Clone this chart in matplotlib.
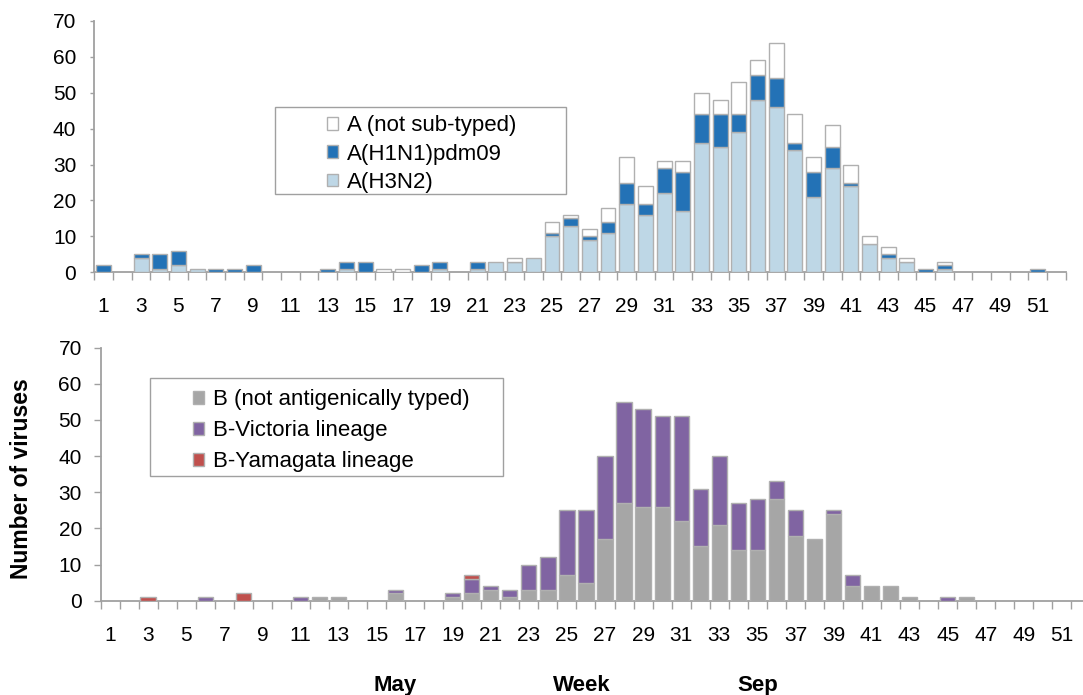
import numpy as np
import matplotlib
matplotlib.use('Agg')
import matplotlib.pyplot as plt
from matplotlib.patches import Patch, Rectangle

plt.rcParams['font.family'] = ['Liberation Sans', 'DejaVu Sans']

weeks = np.arange(1, 53)

# influenza A by week 1..52
h3n2 = [0, 0, 4, 1, 2, 1, 0, 0, 0, 0, 0, 0, 0, 1, 0, 0, 0, 0, 1, 0,
        1, 3, 3, 4, 10, 13, 9, 11, 19, 16, 22, 17, 36, 35, 39, 48, 46, 34, 21, 29,
        24, 8, 4, 3, 0, 1, 0, 0, 0, 0, 0, 0]
h1n1 = [2, 0, 1, 4, 4, 0, 1, 1, 2, 0, 0, 0, 1, 2, 3, 0, 0, 2, 2, 0,
        2, 0, 0, 0, 1, 2, 1, 3, 6, 3, 7, 11, 8, 9, 5, 7, 8, 2, 7, 6,
        1, 0, 1, 0, 1, 1, 0, 0, 0, 0, 1, 0]
a_nst = [0, 0, 0, 0, 0, 0, 0, 0, 0, 0, 0, 0, 0, 0, 0, 1, 1, 0, 0, 0,
         0, 0, 1, 0, 3, 1, 2, 4, 7, 5, 2, 3, 6, 4, 9, 4, 10, 8, 4, 6,
         5, 2, 2, 1, 0, 1, 0, 0, 0, 0, 0, 0]

# influenza B by week 1..52
b_nat = [0, 0, 0, 0, 0, 0, 0, 0, 0, 0, 0, 1, 1, 0, 0, 2, 0, 0, 1, 2,
         3, 1, 3, 3, 7, 5, 17, 27, 26, 26, 22, 15, 21, 14, 14, 28, 18, 17, 24, 4,
         4, 4, 1, 0, 0, 1, 0, 0, 0, 0, 0, 0]
b_vic = [0, 0, 0, 0, 0, 1, 0, 0, 0, 0, 1, 0, 0, 0, 0, 1, 0, 0, 1, 4,
         1, 2, 7, 9, 18, 20, 23, 28, 27, 25, 29, 16, 19, 13, 14, 5, 7, 0, 1, 3,
         0, 0, 0, 0, 1, 0, 0, 0, 0, 0, 0, 0]
b_yam = [0, 0, 1, 0, 0, 0, 0, 2, 0, 0, 0, 0, 0, 0, 0, 0, 0, 0, 0, 1,
         0, 0, 0, 0, 0, 0, 0, 0, 0, 0, 0, 0, 0, 0, 0, 0, 0, 0, 0, 0,
         0, 0, 0, 0, 0, 0, 0, 0, 0, 0, 0, 0]

tick_weeks = np.arange(1, 52, 2)

edge = '#b0b0b0'
axis_grey = '#a0a0a0'
fs = 15


def stacked(ax, series, colors):
    bottom = np.zeros(len(weeks))
    for vals, col in zip(series, colors):
        vals = np.array(vals, dtype=float)
        m = vals > 0
        ax.bar(weeks[m], vals[m], width=0.8, bottom=bottom[m], color=col,
               edgecolor=edge, linewidth=1.0, zorder=3)
        bottom += vals


def style(ax, ylen, ypad):
    ax.set_xlim(0.5, 52.5)
    ax.set_ylim(0, 70)
    ax.set_yticks(range(0, 71, 10))
    ax.set_xticks(tick_weeks)
    ax.set_xticks(np.arange(0.5, 53, 1), minor=True)
    ax.tick_params(axis='x', which='major', length=0, pad=18, labelsize=fs)
    ax.tick_params(axis='x', which='minor', length=5.5, width=1, color=axis_grey)
    ax.tick_params(axis='y', length=ylen, width=1, color=axis_grey, labelsize=fs, pad=ypad)
    for s in ['top', 'right']:
        ax.spines[s].set_visible(False)
    for s in ['left', 'bottom']:
        ax.spines[s].set_color(axis_grey)
        ax.spines[s].set_linewidth(1.3)


fig = plt.figure(figsize=(10.83, 6.95), dpi=100)
ax1 = fig.add_axes([0.0871, 0.6082, 0.8969, 0.3616])
ax2 = fig.add_axes([0.0928, 0.1357, 0.9141, 0.3640])

colA = ['#bed7e6', '#2372b6', 'white']
stacked(ax1, [h3n2, h1n1, a_nst], colA)
style(ax1, 3, 10)

colB = ['#a6a6a6', '#8064a2', '#c0504d']
stacked(ax2, [b_nat, b_vic, b_yam], colB)
style(ax2, 5, 8.5)

# legends: frameless, with a separate box like the original
hA = [Patch(facecolor=colA[2], edgecolor=edge), Patch(facecolor=colA[1], edgecolor=edge),
      Patch(facecolor=colA[0], edgecolor=edge)]
fig.legend(hA, ['A (not sub-typed)', 'A(H1N1)pdm09', 'A(H3N2)'], loc='upper left',
           bbox_to_anchor=(0.3017, 0.834), frameon=False, fontsize=16, borderpad=0,
           borderaxespad=0, handlelength=0.5, handleheight=0.5, handletextpad=0.4,
           labelspacing=0.33)
fig.add_artist(Rectangle((0.2539, 0.7209), 0.2687, 0.1252, transform=fig.transFigure,
                         facecolor='none', edgecolor=axis_grey, linewidth=1.0))

hB = [Patch(facecolor=c, edgecolor=edge) for c in colB]
fig.legend(hB, ['B (not antigenically typed)', 'B-Victoria lineage', 'B-Yamagata lineage'],
           loc='upper left', bbox_to_anchor=(0.178, 0.440), frameon=False, fontsize=16,
           borderpad=0, borderaxespad=0, handlelength=0.5, handleheight=0.5,
           handletextpad=0.4, labelspacing=0.45)
fig.add_artist(Rectangle((0.1385, 0.3151), 0.3262, 0.1406, transform=fig.transFigure,
                         facecolor='none', edgecolor=axis_grey, linewidth=1.0))

fig.text(0.0203, 0.312, 'Number of viruses', rotation=90, ha='center', va='center',
         fontsize=16.5, fontweight='bold')
for txt, xp in [('May', 395), ('Week', 582), ('Sep', 758)]:
    fig.text(xp / 1083, 0.006, txt, ha='center', va='baseline', fontsize=16, fontweight='bold')

fig.savefig('out.png', dpi=100)
